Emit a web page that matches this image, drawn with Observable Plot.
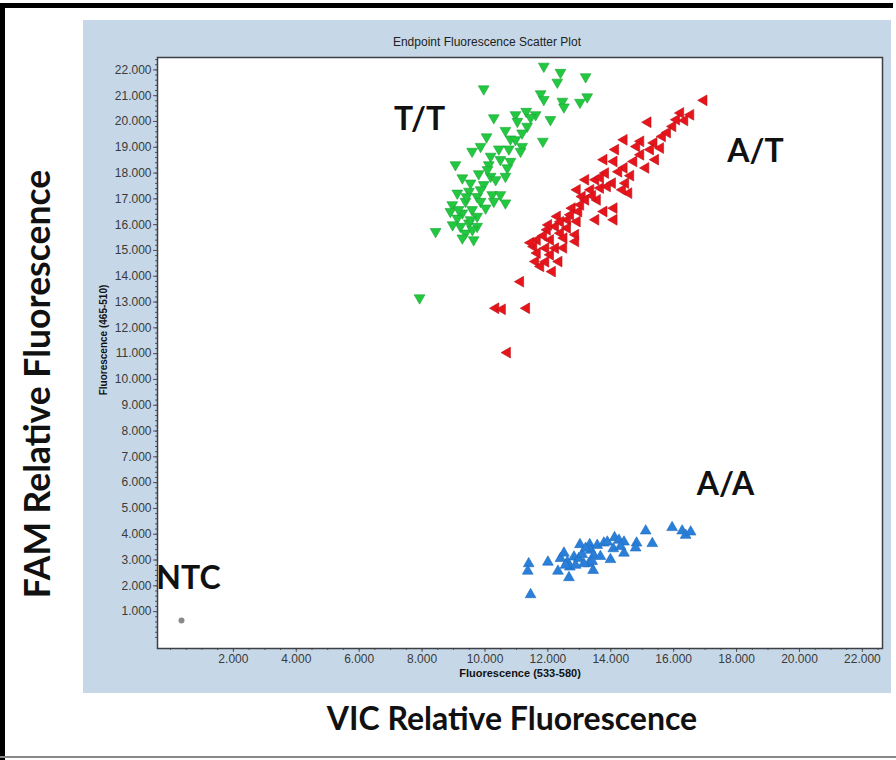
<!DOCTYPE html>
<html><head><meta charset="utf-8">
<script src="https://cdn.jsdelivr.net/npm/d3@7"></script>
<script src="https://cdn.jsdelivr.net/npm/@observablehq/plot@0.6"></script>
<style>
body{margin:0;background:#fff;}
#page{position:relative;width:896px;height:760px;overflow:hidden;background:#fff;font-family:"Liberation Sans",Arial,sans-serif;}
#topbar{position:absolute;left:0;top:3px;width:893px;height:5px;background:#000;}
#leftbar{position:absolute;left:0;top:3px;width:5px;height:757px;background:#000;}
#bottomline{position:absolute;left:0;top:756px;width:896px;height:2px;background:#888;}
#panel{position:absolute;left:83px;top:20px;width:808px;height:673px;background:#c6d8e7;}
#title{position:absolute;left:83px;width:808px;top:35px;text-align:center;font-size:12px;color:#222;}
#chart{position:absolute;left:83px;top:20px;}
.big{position:absolute;font-family:Lato,"Open Sans",sans-serif;font-weight:bold;color:#111;white-space:nowrap;}
#vic{left:0;width:1024px;top:698px;text-align:center;font-size:32px;}
#fam{left:36px;top:384px;font-size:35.5px;transform:translate(-50%,-50%) rotate(-90deg);}
</style></head><body>
<div id="page">
  <div id="panel"></div>
  <div id="title">Endpoint Fluorescence Scatter Plot</div>
  <div id="chart"></div>
  <div id="topbar"></div><div id="leftbar"></div><div id="bottomline"></div>
  <div class="big" id="fam">FAM Relative Fluorescence</div>
  <div class="big" id="vic">VIC Relative Fluorescence</div>
</div>
<script>
// ---- data (VIC = x, FAM = y) ----
const ttVic = [11870,12400,13200,12300,9960,11770,11870,12460,12510,13250,13020,11310,11610,10970,10280,12080,11030,11340,10650,11180,11840,10050,10810,9860,9590,10440,10760,11180,11130,10180,10810,9060,10120,10710,9800,9280,10180,10650,9540,9960,9120,9490,9750,10230,10490,10280,10650,8960,9380,9860,10020,8900,9280,9590,9750,9120,9490,9220,9750,9380,9640,9280,8430,7920,9540,9860,9160,10340,10490,10970,11450,9410,9600,8970,10080];
const ttFam = [22140,21900,21730,21520,21260,21070,20850,20780,20560,20950,20740,20390,20260,20260,20140,20070,20000,19810,19650,19550,19230,19400,19320,19030,18840,18930,18930,19030,18840,18650,18450,18320,18320,18200,17970,17810,17870,17870,17610,17550,17220,17290,17090,17160,17160,16900,16840,16770,16900,16900,16640,16510,16450,16580,16320,16250,16060,15930,15930,15670,15410,15480,15730,13160,16190,17350,16580,17740,18520,19290,20150,17080,15800,15990,18130];

const atVic = [16960,16220,16350,15180,15970,15640,14420,14950,15370,15580,14820,14150,13780,14100,14730,14420,15110,13830,13520,14050,14470,14570,13200,12930,13360,13670,13890,13090,13570,12770,12980,13780,14100,14100,13520,12300,12620,12930,12240,12620,11980,12400,12880,11660,12080,12510,12880,11550,11930,12240,11660,12080,12350,11610,11770,12140,11130,10340,10550,11320,10710,11860,12020,12400,12720,13200,13420,13670,14250,14630,14950,15260,15800,16090,11930,11450,12500,13040,14370,15420,16540];
const atFam = [20820,20330,20040,19970,19810,19420,19290,19230,19170,18970,19030,18910,18520,18450,18450,18200,18200,18000,17740,17610,17610,17220,17740,17350,17350,17420,17480,17090,16960,16640,16510,16510,16640,16190,16190,16320,16190,16120,15930,15870,15800,15670,15610,15410,15410,15480,15350,15150,15090,15090,14900,14830,14570,14570,14380,14180,13790,12760,12720,12760,11040,15570,15990,16110,16380,16960,17120,17820,18050,17900,18710,18910,19570,20070,14560,15300,15100,16770,17350,18520,20260];

const aaVic = [11390,11360,11450,12000,12320,12400,12510,12620,12700,12670,12830,12980,13020,13090,13330,13360,13300,13440,13460,13570,13780,13890,13990,14080,14120,14260,14420,14420,14820,14790,15110,15320,15950,16270,16380,16540,13410,13140,12560,12880,13670,13200,14310];
const aaFam = [2860,2570,1660,2920,2570,3060,3270,2920,2730,2320,3120,3060,3600,3220,3600,3380,2860,2600,3180,3570,3660,3700,3020,3440,3870,3770,3700,3270,3660,3470,4130,3640,4260,4130,3960,4090,2950,2860,2800,2800,3140,3460,3530];

const ntcVic = [350];
const ntcFam = [660];

const genotypeLabels = ["T/T", "A/T", "A/A", "NTC"];
const labelVic = [7920, 18600, 17650, 570];
const labelFam = [20070, 18830, 5900, 2290];

const xTicks = [2000,4000,6000,8000,10000,12000,14000,16000,18000,20000,22000];
const yTicks = [1000,2000,3000,4000,5000,6000,7000,8000,9000,10000,11000,12000,13000,14000,15000,16000,17000,18000,19000,20000,21000,22000];

// ---- build ----
const pts = (vx, fy, g) => vx.map((v, i) => ({vic: v, fam: fy[i], g}));
const tt = pts(ttVic, ttFam, "T/T");
const at = pts(atVic, atFam, "A/T");
const aa = pts(aaVic, aaFam, "A/A");
const ntc = pts(ntcVic, ntcFam, "NTC");
const labels = genotypeLabels.map((t, i) => ({t, vic: labelVic[i], fam: labelFam[i]}));

const fmt = d3.formatLocale({decimal: ",", thousands: ".", grouping: [3], currency: ["", ""]}).format(",");
const minorX = d3.range(0, 22501, 500);
const minorY = d3.range(0, 22401, 200);

const s3 = Math.sqrt(3);
const triDown = {draw(ctx, size) { const y = Math.sqrt(size / (s3 * 3)); ctx.moveTo(0, 2 * y); ctx.lineTo(-s3 * y, -y); ctx.lineTo(s3 * y, -y); ctx.closePath(); }};
const triLeft = {draw(ctx, size) { const y = Math.sqrt(size / (s3 * 3)); ctx.moveTo(-2 * y, 0); ctx.lineTo(y, -s3 * y); ctx.lineTo(y, s3 * y); ctx.closePath(); }};
const triUp = {draw(ctx, size) { const y = -Math.sqrt(size / (s3 * 3)); ctx.moveTo(0, 2 * y); ctx.lineTo(-s3 * y, -y); ctx.lineTo(s3 * y, -y); ctx.closePath(); }};

const chart = Plot.plot({
  width: 808, height: 673,
  marginLeft: 74, marginTop: 37, marginRight: 9, marginBottom: 45,
  style: {background: "transparent", fontFamily: "Liberation Sans, Arial, sans-serif", fontSize: "12px", color: "#333"},
  x: {domain: [-413, 22640]},
  y: {domain: [-430, 22480]},
  marks: [
    Plot.frame({fill: "white", stroke: null}),
    Plot.axisX(minorX, {anchor: "bottom", tickSize: 2, tickFormat: () => "", label: null, stroke: "#555"}),
    Plot.axisY(minorY, {anchor: "left", tickSize: 2, tickFormat: () => "", label: null, stroke: "#555"}),
    Plot.axisX(xTicks, {anchor: "bottom", tickSize: 4, tickPadding: 2, tickFormat: fmt, label: null, stroke: "#555", fill: "#3a3a3a", fontSize: 12}),
    Plot.axisY(yTicks, {anchor: "left", tickSize: 4, tickPadding: 2, tickFormat: fmt, label: null, stroke: "#555", fill: "#3a3a3a", fontSize: 12}),
    Plot.text(["Fluorescence (533-580)"], {frameAnchor: "bottom", dy: 28, fontWeight: "bold", fontSize: 11, fill: "#111"}),
    Plot.text(["Fluorescence (465-510)"], {frameAnchor: "left", textAnchor: "middle", rotate: -90, dx: -54, dy: -13, fontWeight: "bold", fontSize: 10, fill: "#111"}),
    Plot.dot(ntc, {x: "vic", y: "fam", r: 3, fill: "#8a8a8a"}),
    Plot.dot(aa, {x: "vic", y: "fam", r: 4, symbol: triUp, fill: "#2a7fd9", stroke: "#1f6bbf", strokeWidth: 0.6}),
    Plot.dot(tt, {x: "vic", y: "fam", r: 4, symbol: triDown, fill: "#22c83f", stroke: "#1ba335", strokeWidth: 0.6}),
    Plot.dot(at, {x: "vic", y: "fam", r: 4, symbol: triLeft, fill: "#e8141b", stroke: "#b81218", strokeWidth: 0.6}),
    Plot.text(labels, {x: "vic", y: "fam", text: "t", fontFamily: "Lato, Open Sans, sans-serif", fontWeight: "bold", fontSize: 32, fill: "#111"}),
    Plot.frame({stroke: "#3c3f44", strokeWidth: 1.5})
  ]
});
document.getElementById("chart").appendChild(chart);
</script>
</body></html>
